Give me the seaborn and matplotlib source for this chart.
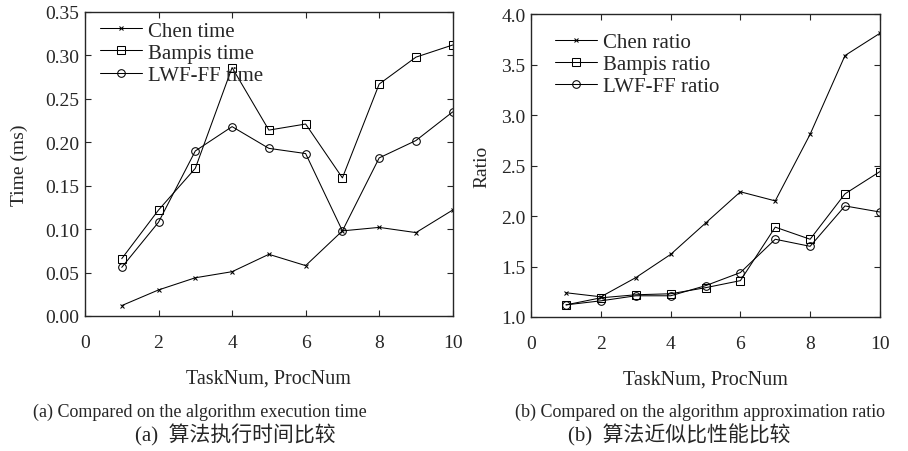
import numpy as np
import pandas as pd
import matplotlib
matplotlib.use("Agg")
import matplotlib.pyplot as plt
import seaborn as sns

sns.set_style("ticks")
plt.rcParams['font.family'] = ['Liberation Serif', 'Noto Sans CJK SC']
plt.rcParams['xtick.direction'] = 'in'
plt.rcParams['ytick.direction'] = 'in'

task_num = [1, 2, 3, 4, 5, 6, 7, 8, 9, 10]

# execution time (ms)
chen_time = [0.012, 0.030, 0.044, 0.051, 0.071, 0.058, 0.098, 0.102, 0.096, 0.122]
bampis_time = [0.066, 0.122, 0.170, 0.286, 0.214, 0.221, 0.159, 0.267, 0.298, 0.312]
lwf_time = [0.056, 0.108, 0.190, 0.218, 0.193, 0.187, 0.098, 0.182, 0.202, 0.235]

# approximation ratio
chen_ratio = [1.24, 1.20, 1.39, 1.62, 1.93, 2.24, 2.15, 2.81, 3.59, 3.81]
bampis_ratio = [1.12, 1.19, 1.22, 1.23, 1.29, 1.36, 1.89, 1.77, 2.22, 2.44]
lwf_ratio = [1.12, 1.16, 1.21, 1.21, 1.31, 1.44, 1.77, 1.70, 2.10, 2.04]

styles = [("x", 3.5, "black"), ("s", 5.5, "none"), ("o", 5.5, "none")]

fig = plt.figure(figsize=(9.08, 4.52), dpi=100)
ax1 = fig.add_axes([0.0936, 0.2987, 0.405, 0.6726])
ax2 = fig.add_axes([0.585, 0.2965, 0.384, 0.670])


def draw(ax, series, names, anchor):
    for vals, name, (m, ms, fc) in zip(series, names, styles):
        sns.lineplot(x=task_num, y=vals, ax=ax, color="black", linewidth=0.75,
                     marker=m, markersize=ms, markerfacecolor=fc,
                     markeredgecolor="black", markeredgewidth=0.75, label=name)
    ax.legend(loc="upper left", bbox_to_anchor=anchor, frameon=False,
              fontsize=15, handlelength=2.0, handletextpad=0.3,
              labelspacing=0.12, borderaxespad=0, borderpad=0)
    ax.set_xlim(0, 10)
    ax.set_xticks([0, 2, 4, 6, 8, 10])
    ax.tick_params(labelsize=14, top=True, right=True, length=4, width=0.8)
    ax.tick_params(axis="x", pad=13)
    ax.tick_params(axis="y", pad=4)
    ax.set_xlabel("TaskNum, ProcNum", fontsize=14.5)
    ax.xaxis.set_label_coords(0.5, -0.172)
    for s in ax.spines.values():
        s.set_linewidth(1.0)


draw(ax1, [chen_time, bampis_time, lwf_time],
     ["Chen time", "Bampis time", "LWF-FF time"], (0.041, 0.97))
ax1.set_ylim(0, 0.35)
ax1.set_yticks(np.arange(0, 0.351, 0.05))
ax1.yaxis.set_major_formatter(matplotlib.ticker.FormatStrFormatter('%.2f'))
ax1.set_ylabel("Time (ms)", fontsize=14)
ax1.yaxis.set_label_coords(-0.155, 0.5)

draw(ax2, [chen_ratio, bampis_ratio, lwf_ratio],
     ["Chen ratio", "Bampis ratio", "LWF-FF ratio"], (0.069, 0.94))
ax2.set_ylim(1.0, 4.0)
ax2.set_yticks(np.arange(1.0, 4.01, 0.5))
ax2.yaxis.set_major_formatter(matplotlib.ticker.FormatStrFormatter('%.1f'))
ax2.set_ylabel("Ratio", fontsize=14)
ax2.yaxis.set_label_coords(-0.118, 0.5)

fig.text(200 / 908, 1 - 412 / 452, "(a) Compared on the algorithm execution time",
         ha="center", va="center", fontsize=13)
fig.text(235 / 908, 1 - 435 / 452, "(a)  算法执行时间比较",
         ha="center", va="center", fontsize=15)
fig.text(700 / 908, 1 - 412 / 452, "(b) Compared on the algorithm approximation ratio",
         ha="center", va="center", fontsize=13)
fig.text(679 / 908, 1 - 435 / 452, "(b)  算法近似比性能比较",
         ha="center", va="center", fontsize=15)

fig.savefig("out.png", dpi=100)
